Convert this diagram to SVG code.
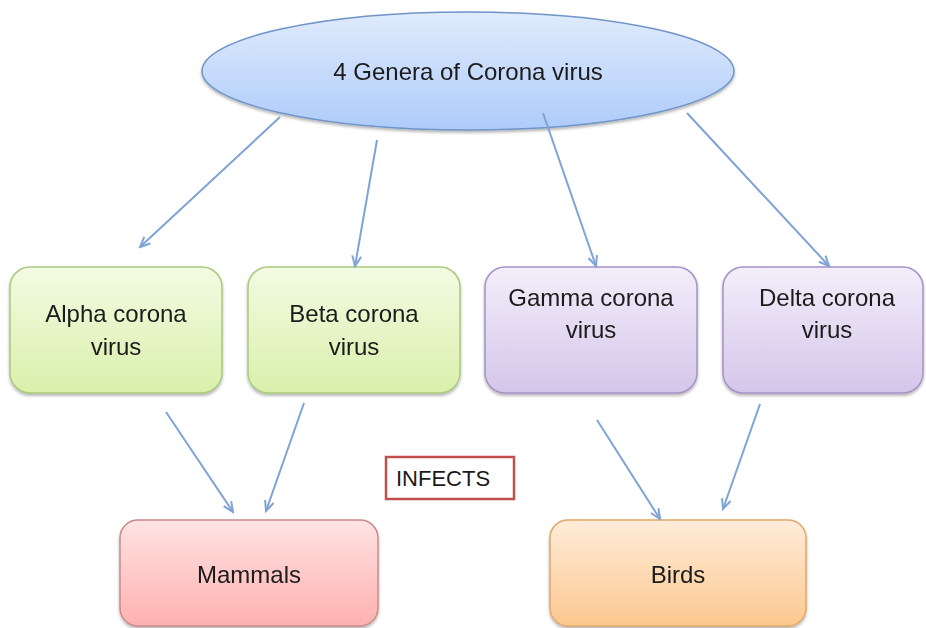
<svg xmlns="http://www.w3.org/2000/svg" width="926" height="628" viewBox="0 0 926 628">
<style>
text{font-family:"Liberation Sans",Arial,sans-serif;font-size:24px;fill:#1a1a1a;text-anchor:middle}
.c line{stroke:#7fa3d6;stroke-width:2;marker-end:url(#ah)}
.g{fill:url(#gGreen);stroke:#a9c97c;stroke-width:1.5}
.p{fill:url(#gPurple);stroke:#a493c6;stroke-width:1.5}
.box{filter:url(#sh)}
</style>
<defs>
<linearGradient id="gBlue" x1="0" y1="0" x2="0" y2="1"><stop offset="0" stop-color="#e0ebfd"/><stop offset="1" stop-color="#aecbfa"/></linearGradient>
<linearGradient id="gGreen" x1="0" y1="0" x2="0" y2="1"><stop offset="0" stop-color="#f3fbe3"/><stop offset="1" stop-color="#d9f0ab"/></linearGradient>
<linearGradient id="gPurple" x1="0" y1="0" x2="0" y2="1"><stop offset="0" stop-color="#f3eefa"/><stop offset="1" stop-color="#d4c6ea"/></linearGradient>
<linearGradient id="gPink" x1="0" y1="0" x2="0" y2="1"><stop offset="0" stop-color="#ffe3e3"/><stop offset="1" stop-color="#ffb0b0"/></linearGradient>
<linearGradient id="gOrange" x1="0" y1="0" x2="0" y2="1"><stop offset="0" stop-color="#ffecd9"/><stop offset="1" stop-color="#fcc88f"/></linearGradient>
<filter id="sh" x="-10%" y="-10%" width="120%" height="130%"><feDropShadow dx="0" dy="2" stdDeviation="1.5" flood-color="#000" flood-opacity="0.3"/></filter>
<marker id="ah" markerUnits="userSpaceOnUse" markerWidth="14" markerHeight="12" viewBox="-11 -6 12 12" refX="0" refY="0" orient="auto">
<path d="M-10,-4.5 L0,0 L-10,4.5" fill="none" stroke="#7fa3d6" stroke-width="2"/>
</marker>
</defs>
<g id="root" class="box">
<ellipse cx="468" cy="71" rx="266" ry="59" fill="url(#gBlue)" stroke="#7095c8" stroke-width="1.5"/>
<text x="468" y="80">4 Genera of Corona virus</text>
</g>
<g id="alpha" class="box">
<rect x="10" y="267" width="212" height="126" rx="20" class="g"/>
<text x="116" y="322">Alpha corona</text>
<text x="116" y="355">virus</text>
</g>
<g id="beta" class="box">
<rect x="248" y="267" width="212" height="126" rx="20" class="g"/>
<text x="354" y="322">Beta corona</text>
<text x="354" y="355">virus</text>
</g>
<g id="gamma" class="box">
<rect x="485" y="267" width="212" height="126" rx="20" class="p"/>
<text x="591" y="306">Gamma corona</text>
<text x="591" y="338">virus</text>
</g>
<g id="delta" class="box">
<rect x="723" y="267" width="200" height="126" rx="20" class="p"/>
<text x="827" y="306">Delta corona</text>
<text x="827" y="338">virus</text>
</g>
<g id="infects">
<rect x="386" y="457" width="128" height="42" fill="#fff" stroke="#c0504d" stroke-width="2.5"/>
<text x="443" y="486" style="font-size:22px">INFECTS</text>
</g>
<g id="mammals" class="box">
<rect x="120" y="520" width="258" height="106" rx="18" fill="url(#gPink)" stroke="#c98a8a" stroke-width="1.5"/>
<text x="249" y="583">Mammals</text>
</g>
<g id="birds" class="box">
<rect x="550" y="520" width="256" height="106" rx="18" fill="url(#gOrange)" stroke="#e0a86a" stroke-width="1.5"/>
<text x="678" y="583">Birds</text>
</g>
<g id="connectors" class="c">
<line x1="280" y1="117" x2="140" y2="247"/>
<line x1="377" y1="140" x2="355" y2="266"/>
<line x1="543" y1="113" x2="596" y2="266"/>
<line x1="687" y1="113" x2="829" y2="266"/>
<line x1="166" y1="412" x2="233" y2="512"/>
<line x1="304" y1="403" x2="266" y2="511"/>
<line x1="597" y1="420" x2="660" y2="519"/>
<line x1="760" y1="404" x2="723" y2="509"/>
</g>
</svg>
